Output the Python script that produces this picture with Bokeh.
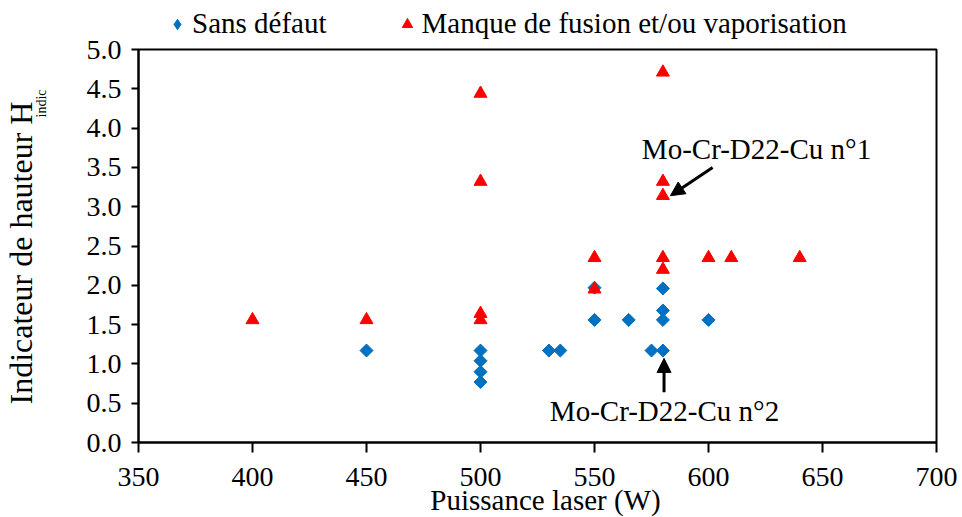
import math
from bokeh.plotting import figure
from bokeh.models import (Range1d, FixedTicker, PrintfTickFormatter, Label, Arrow,
                          NormalHead, Legend, LegendItem, BoxAnnotation)
from bokeh.embed import file_html
from bokeh.resources import INLINE

# ---- data ----
power_ok = [450, 500, 500, 500, 500, 530, 535, 550, 550, 565, 575, 580, 580, 580, 580, 600]
h_ok = [1.17, 1.17, 1.04, 0.90, 0.77, 1.17, 1.17, 1.97, 1.56, 1.56, 1.17, 1.17, 1.96, 1.68, 1.56, 1.56]

power_defect = [400, 450, 500, 500, 500, 500, 550, 550, 580, 580, 580, 580, 580, 600, 610, 640]
h_defect = [1.56, 1.56, 4.44, 3.32, 1.64, 1.56, 2.35, 1.95, 4.71, 3.32, 3.14, 2.35, 2.20, 2.35, 2.35, 2.35]

x_ticks = [350, 400, 450, 500, 550, 600, 650, 700]
y_ticks = [0.0, 0.5, 1.0, 1.5, 2.0, 2.5, 3.0, 3.5, 4.0, 4.5, 5.0]

label_ok = "Sans défaut"
label_defect = "Manque de fusion et/ou vaporisation"
annot_1 = "Mo-Cr-D22-Cu n°1"
annot_2 = "Mo-Cr-D22-Cu n°2"
x_title = "Puissance laser (W)"
y_title = "Indicateur de hauteur H"
y_title_sub = "indic"

X_MIN, X_MAX = 350, 700
Y_MIN, Y_MAX = 0.0, 5.0
# the view extends past the plot box so that titles and legend live inside the frame
X_VIEW = (289.47, 711.40)
Y_VIEW = (-0.954, 5.6234)

BLUE = "#0070C0"
RED = "#FF0000"
FONT = "Liberation Serif"
FS = "29px"

p = figure(width=962, height=517, output_backend="svg", toolbar_location=None,
           x_range=Range1d(*X_VIEW), y_range=Range1d(*Y_VIEW),
           min_border_left=0, min_border_right=0, min_border_top=0, min_border_bottom=0)
p.xgrid.visible = False
p.ygrid.visible = False
p.outline_line_color = None
p.background_fill_color = "white"
p.border_fill_color = "white"

# plot box
p.add_layout(BoxAnnotation(left=X_MIN, right=X_MAX, bottom=Y_MIN, top=Y_MAX,
                           fill_alpha=0, line_color="black", line_width=2, line_alpha=1))

# axes pinned to the box edges
p.xaxis.fixed_location = Y_MIN
p.yaxis.fixed_location = X_MIN
p.xaxis.bounds = (X_MIN, X_MAX)
p.yaxis.bounds = (Y_MIN, Y_MAX)
p.xaxis.ticker = FixedTicker(ticks=x_ticks)
p.yaxis.ticker = FixedTicker(ticks=y_ticks)
p.xaxis.formatter = PrintfTickFormatter(format="%d")
p.yaxis.formatter = PrintfTickFormatter(format="%.1f")
for ax in (p.xaxis[0], p.yaxis[0]):
    ax.axis_line_color = "black"
    ax.axis_line_width = 2
    ax.major_tick_line_color = "black"
    ax.major_tick_line_width = 2
    ax.major_tick_in = 0
    ax.minor_tick_line_color = None
    ax.major_label_text_font = FONT
    ax.major_label_text_font_size = "28px"
    ax.major_label_text_color = "black"
p.xaxis.major_tick_out = 10
p.xaxis.major_label_standoff = 15
p.yaxis.major_tick_out = 7
p.yaxis.major_label_standoff = 10

# data
r_ok = p.scatter(power_ok, h_ok, marker="square", angle=math.pi / 4, size=9.2,
                 fill_color=BLUE, line_color=BLUE)
r_def = p.scatter(power_defect, h_defect, marker="triangle", size=13,
                  fill_color=RED, line_color=RED)
# hidden twin used only for the legend's diamond glyph
r_ok_leg = p.scatter(power_ok, h_ok, marker="diamond", size=13,
                     fill_color=BLUE, line_color=BLUE, visible=False)

legend = Legend(items=[LegendItem(label=label_ok, renderers=[r_ok_leg]),
                       LegendItem(label=label_defect, renderers=[r_def])],
                location=(164, 477), orientation="horizontal", glyph_width=26,
                glyph_height=30, label_height=30, label_standoff=2, spacing=67,
                padding=0, margin=0, border_line_color=None, background_fill_alpha=0,
                label_text_font=FONT, label_text_font_size=FS, label_text_color="black")
p.add_layout(legend)

# texts (screen units from the canvas' bottom-left)
lab = dict(x_units="screen", y_units="screen", text_font=FONT, text_color="black")
p.add_layout(Label(x=756, y=369, text=annot_1, text_align="center", text_baseline="middle",
                   text_font_size=FS, **lab))
p.add_layout(Label(x=664, y=107, text=annot_2, text_align="center", text_baseline="middle",
                   text_font_size=FS, **lab))
p.add_layout(Label(x=545, y=18, text=x_title, text_align="center",
                   text_baseline="alphabetic", text_font_size=FS, **lab))
p.add_layout(Label(x=20, y=113, angle=math.pi / 2, text=y_title, text_align="left",
                   text_baseline="alphabetic", text_font_size="32px", **lab))
p.add_layout(Label(x=41, y=400, angle=math.pi / 2, text=y_title_sub, text_align="left",
                   text_baseline="alphabetic", text_font_size="14px", **lab))

# arrows
p.add_layout(Arrow(end=NormalHead(size=14, fill_color="black", line_color="black"),
                   x_start=601.8, y_start=3.50, x_end=583.3, y_end=3.14,
                   line_width=3, line_color="black"))
p.add_layout(Arrow(end=NormalHead(size=14, fill_color="black", line_color="black"),
                   x_start=580.5, y_start=0.64, x_end=580.5, y_end=1.07,
                   line_width=3, line_color="black"))

open("out.html", "w").write(file_html(p, INLINE))
